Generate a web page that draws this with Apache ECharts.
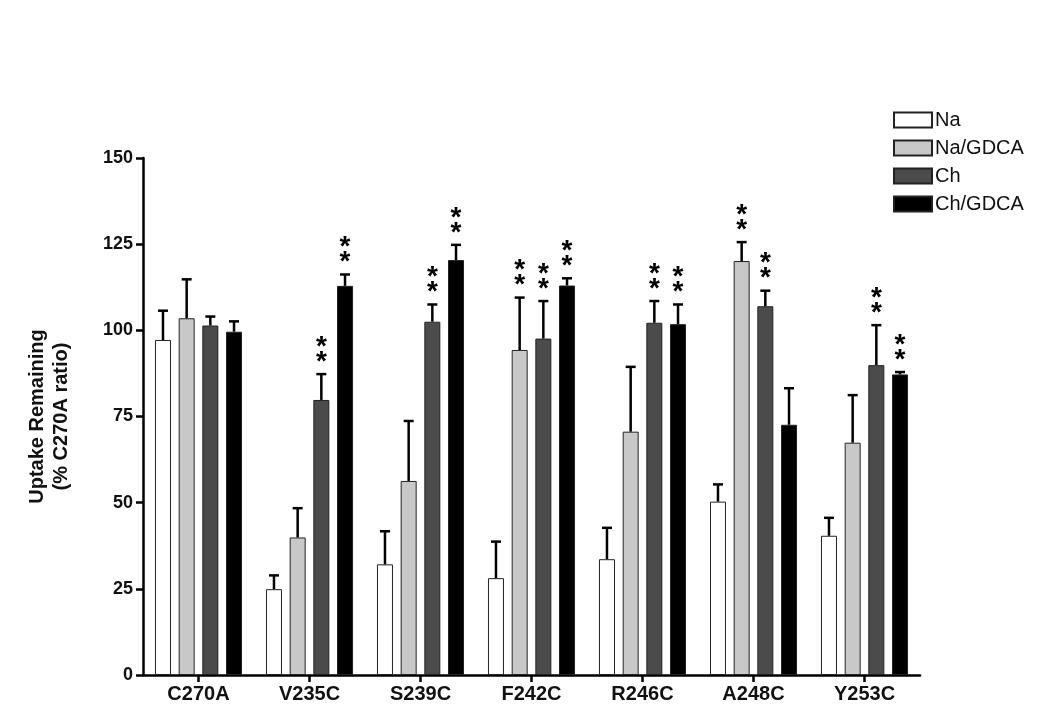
<!DOCTYPE html>
<html>
<head>
<meta charset="utf-8">
<script src="https://cdn.jsdelivr.net/npm/echarts@6/dist/echarts.min.js"></script>
<style>html,body{margin:0;padding:0;background:#fff;}#main{width:1050px;height:724px;}</style>
</head>
<body>
<div id="main"></div>
<script>
const categories = ['C270A','V235C','S239C','F242C','R246C','A248C','Y253C'];
const seriesNames = ['Na','Na/GDCA','Ch','Ch/GDCA'];
const naValues      = [97.2, 24.9, 32.1, 28.1, 33.6, 50.3, 40.4];
const naErr         = [8.5, 4.0, 9.6, 10.6, 9.1, 5.0, 5.2];
const naSig         = [0, 0, 0, 0, 0, 0, 0];
const naGdcaValues  = [103.5, 39.9, 56.3, 94.3, 70.6, 120.1, 67.4];
const naGdcaErr     = [11.3, 8.5, 17.4, 15.2, 18.8, 5.5, 13.8];
const naGdcaSig     = [0, 0, 0, 1, 0, 1, 0];
const chValues      = [101.4, 79.8, 102.5, 97.6, 102.2, 107.0, 89.9];
const chErr         = [2.6, 7.5, 5.0, 10.9, 6.3, 4.5, 11.6];
const chSig         = [0, 1, 1, 1, 1, 1, 1];
const chGdcaValues  = [99.6, 112.9, 120.4, 113.0, 101.8, 72.6, 87.2];
const chGdcaErr     = [3.0, 3.3, 4.4, 2.1, 5.7, 10.6, 0.7];
const chGdcaSig     = [0, 1, 1, 1, 1, 0, 1];
const yTicks = [0, 25, 50, 75, 100, 125, 150];

const allValues = [naValues, naGdcaValues, chValues, chGdcaValues];
const allErr = [naErr, naGdcaErr, chErr, chGdcaErr];
const allSig = [naSig, naGdcaSig, chSig, chGdcaSig];
const colors = ['#ffffff', '#c8c8c8', '#4b4b4b', '#000000'];

const BAR_W = 16, BAR_GAP = 0.48;
const pitch = BAR_W * (1 + BAR_GAP);

const errData = [];
allValues.forEach((vals, s) => {
  vals.forEach((v, i) => {
    errData.push([i, v, allErr[s][i], allSig[s][i], s]);
  });
});

const font = 'Arial, "Liberation Sans", sans-serif';

const barSeries = seriesNames.map((name, s) => ({
  name: name,
  type: 'bar',
  data: allValues[s],
  barWidth: BAR_W,
  barGap: (BAR_GAP * 100) + '%',
  itemStyle: { color: colors[s], borderColor: '#222', borderWidth: 1 },
  emphasis: { disabled: true },
  z: 2
}));

const chart = echarts.init(document.getElementById('main'), null, { renderer: 'canvas' });
chart.setOption({
  animation: false,
  backgroundColor: '#fff',
  grid: { left: 143, right: 130, top: 158, bottom: 49, containLabel: false },
  legend: {
    data: seriesNames,
    orient: 'vertical',
    left: 888,
    top: 105,
    itemWidth: 38,
    itemHeight: 15,
    itemGap: 8,
    icon: 'rect',
    textStyle: { fontFamily: font, fontSize: 20, color: '#111', padding: [0, 0, 0, -2] },
    selectedMode: false
  },
  xAxis: {
    type: 'category',
    data: categories,
    axisLine: { lineStyle: { color: '#000', width: 2.5 } },
    axisTick: { show: true, alignWithLabel: true, length: 7, lineStyle: { color: '#000', width: 2.5 } },
    axisLabel: { fontFamily: font, fontWeight: 'bold', fontSize: 20, color: '#111', margin: 9 }
  },
  yAxis: {
    type: 'value',
    min: 0, max: 150, interval: 25,
    name: 'Uptake Remaining\n(% C270A ratio)',
    nameLocation: 'middle',
    nameGap: 70,
    nameRotate: 90,
    nameTextStyle: { fontFamily: font, fontWeight: 'bold', fontSize: 20, color: '#111', lineHeight: 24 },
    axisLine: { show: true, lineStyle: { color: '#000', width: 2.5 } },
    axisTick: { show: true, length: 7, lineStyle: { color: '#000', width: 2.5 } },
    splitLine: { show: false },
    axisLabel: {
      fontFamily: font, fontWeight: 'bold', fontSize: 18, color: '#111', margin: 10,
      formatter: v => (yTicks.indexOf(v) >= 0 ? String(v) : '')
    }
  },
  series: barSeries.concat([{
    type: 'custom',
    name: 'err',
    data: errData,
    z: 5,
    silent: true,
    encode: { x: 0, y: 1 },
    renderItem: function (params, api) {
      const c = api.value(0), v = api.value(1), e = api.value(2), sig = api.value(3), s = api.value(4);
      const base = api.coord([c, v]);
      const top = api.coord([c, v + e]);
      const x = base[0] + (s - 1.5) * pitch;
      const children = [
        { type: 'line', shape: { x1: x, y1: base[1], x2: x, y2: top[1] }, style: { stroke: '#000', lineWidth: 2.5 } },
        { type: 'line', shape: { x1: x - 5, y1: top[1], x2: x + 5, y2: top[1] }, style: { stroke: '#000', lineWidth: 2.5 } }
      ];
      if (sig) {
        [12, 27].forEach(dy => {
          children.push({
            type: 'text',
            style: {
              x: x, y: top[1] - dy,
              text: '*', fill: '#000',
              font: 'bold 28px Arial, "Liberation Sans", sans-serif',
              textAlign: 'center', textVerticalAlign: 'middle'
            }
          });
        });
      }
      return { type: 'group', children: children };
    }
  }])
});
</script>
</body>
</html>
